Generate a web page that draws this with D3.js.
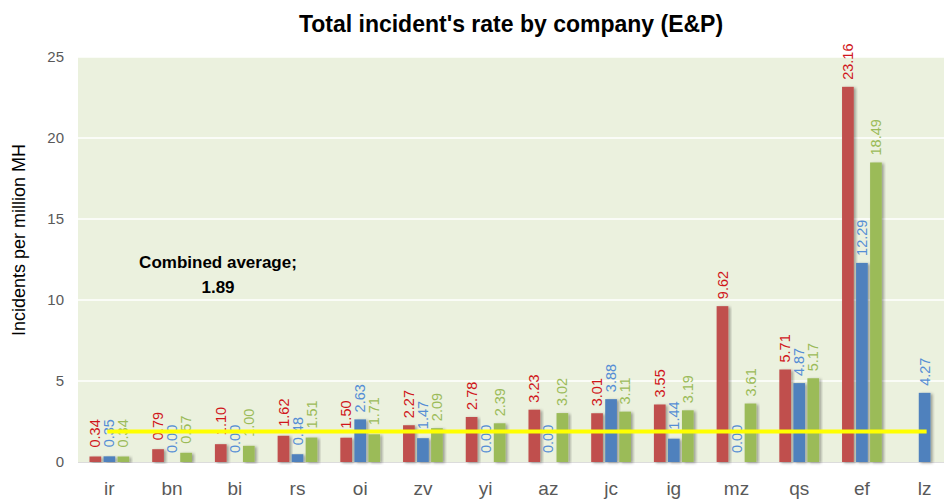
<!DOCTYPE html>
<html>
<head>
<meta charset="utf-8">
<script src="https://cdn.jsdelivr.net/npm/d3@7"></script>
<style>
  body { margin: 0; background: #fff; }
  svg { font-family: "Liberation Sans", Arial, sans-serif; display: block; }
  .tick text { fill: #595959; }
</style>
</head>
<body>
<script>
// chart data
const companies = ['ir', 'bn', 'bi', 'rs', 'oi', 'zv', 'yi', 'az', 'jc', 'ig', 'mz', 'qs', 'ef', 'lz']
const seriesNames = ['s1', 's2', 's3']
const redValues   = [0.34, 0.79, 1.10, 1.62, 1.50, 2.27, 2.78, 3.23, 3.01, 3.55, 9.62, 5.71, 23.16, null]
const blueValues  = [0.35, 0.00, 0.00, 0.48, 2.63, 1.47, 0.00, 0.00, 3.88, 1.44, 0.00, 4.87, 12.29, 4.27]
const greenValues = [0.34, 0.57, 1.00, 1.51, 1.71, 2.09, 2.39, 3.02, 3.11, 3.19, 3.61, 5.17, 18.49, null]
const yTicks = [0, 5, 10, 15, 20, 25]
const combinedAverage = 1.89

const width = 944
const height = 504
const margin = {top: 57, bottom: 42, left: 78, right: -12}

const barFill = ['#c0504d', '#4f81bd', '#9bbb59']
const labelFill = ['#d0161b', '#558ed5', '#9bbb59']

const svg = d3.select('body').append('svg')
  .attr('width', width)
  .attr('height', height)

// drop shadow for bars
const defs = svg.append('defs')
defs.append('filter')
  .attr('id', 'shadow')
  .attr('x', '-30%').attr('y', '-10%').attr('width', '160%').attr('height', '120%')
  .append('feDropShadow')
  .attr('dx', 2).attr('dy', 1)
  .attr('stdDeviation', 1.4)
  .attr('flood-color', '#000')
  .attr('flood-opacity', 0.35)

const x0 = d3.scaleBand()
  .domain(companies)
  .range([margin.left, width - margin.right])
  .padding(0)

const x1 = d3.scaleBand()
  .domain(seriesNames)
  .range([x0.bandwidth() * 0.183, x0.bandwidth() * 0.817])
  .paddingInner(0.164)

const y = d3.scaleLinear()
  .domain([0, 25])
  .range([height - margin.bottom, margin.top])

// plot area
svg.append('rect')
  .attr('x', margin.left)
  .attr('y', y(25))
  .attr('width', width - margin.right - margin.left)
  .attr('height', y(0) - y(25))
  .attr('fill', '#ebf1de')

// gridlines
svg.append('g').selectAll('line')
  .data(yTicks.filter(d => d > 0))
  .enter()
  .append('line')
  .attr('x1', margin.left)
  .attr('x2', width - margin.right)
  .attr('y1', d => y(d))
  .attr('y2', d => y(d))
  .attr('stroke', '#ffffff')
  .attr('stroke-width', 1.5)

svg.append('line')
  .attr('x1', margin.left)
  .attr('x2', width - margin.right)
  .attr('y1', y(0) + 0.5)
  .attr('y2', y(0) + 0.5)
  .attr('stroke', '#dcdcdc')

// title
svg.append('text')
  .attr('x', 511)
  .attr('y', 32)
  .attr('text-anchor', 'middle')
  .attr('font-size', 23)
  .attr('font-weight', 'bold')
  .attr('fill', '#000')
  .text("Total incident's rate by company (E&P)")

// y axis
const yAxis = d3.axisLeft(y).tickValues(yTicks).tickSize(0).tickPadding(14)
svg.append('g')
  .attr('transform', `translate(${margin.left}, 0)`)
  .call(yAxis)
  .call(g => g.select('.domain').remove())
  .selectAll('text')
  .attr('font-size', 15)
  .attr('font-family', '"Liberation Sans", Arial, sans-serif')

svg.append('text')
  .attr('transform', 'translate(25, 240) rotate(-90)')
  .attr('text-anchor', 'middle')
  .attr('font-size', 18)
  .attr('fill', '#000')
  .text('Incidents per million MH')

// x axis
const xAxis = d3.axisBottom(x0).tickSize(0).tickPadding(20)
svg.append('g')
  .attr('transform', `translate(0, ${y(0)})`)
  .call(xAxis)
  .call(g => g.select('.domain').remove())
  .selectAll('text')
  .attr('font-size', 19)
  .attr('font-family', '"Liberation Sans", Arial, sans-serif')
  .attr('fill', '#262626')

// bars
const rows = companies.map((c, i) => ({
  company: c,
  values: [redValues[i], blueValues[i], greenValues[i]]
}))

const groups = svg.append('g').selectAll('g')
  .data(rows)
  .enter()
  .append('g')
  .attr('transform', d => `translate(${x0(d.company)}, 0)`)

groups.selectAll('rect')
  .data(d => d.values.map((v, k) => ({v: v, k: k})).filter(e => e.v !== null))
  .enter()
  .append('rect')
  .attr('x', d => x1(seriesNames[d.k]))
  .attr('y', d => y(d.v))
  .attr('width', x1.bandwidth())
  .attr('height', d => y(0) - y(d.v))
  .attr('fill', d => barFill[d.k])
  .attr('filter', d => d.v > 0 ? 'url(#shadow)' : null)

// average line
svg.append('line')
  .attr('x1', x0(companies[0]) + x0.bandwidth() / 2 - 2)
  .attr('x2', x0(companies[companies.length - 1]) + x0.bandwidth() / 2 + 2)
  .attr('y1', y(combinedAverage))
  .attr('y2', y(combinedAverage))
  .attr('stroke', '#ffff00')
  .attr('stroke-width', 4)

// data labels
groups.selectAll('text.val')
  .data(d => d.values.map((v, k) => ({v: v, k: k})).filter(e => e.v !== null))
  .enter()
  .append('text')
  .attr('class', 'val')
  .attr('transform', d => `translate(${x1(seriesNames[d.k]) + x1.bandwidth() / 2}, ${y(d.v) - (d.v < 2 ? 9 : 7)}) rotate(-90)`)
  .attr('dy', '0.35em')
  .attr('font-size', 14.5)
  .attr('fill', d => labelFill[d.k])
  .text(d => d.v.toFixed(2))

// annotation
const note = svg.append('text')
  .attr('text-anchor', 'middle')
  .attr('font-size', 17)
  .attr('font-weight', 'bold')
  .attr('fill', '#000')
note.append('tspan').attr('x', 218).attr('y', 268).text('Combined average;')
note.append('tspan').attr('x', 218).attr('y', 293).text(combinedAverage.toFixed(2))
</script>
</body>
</html>
